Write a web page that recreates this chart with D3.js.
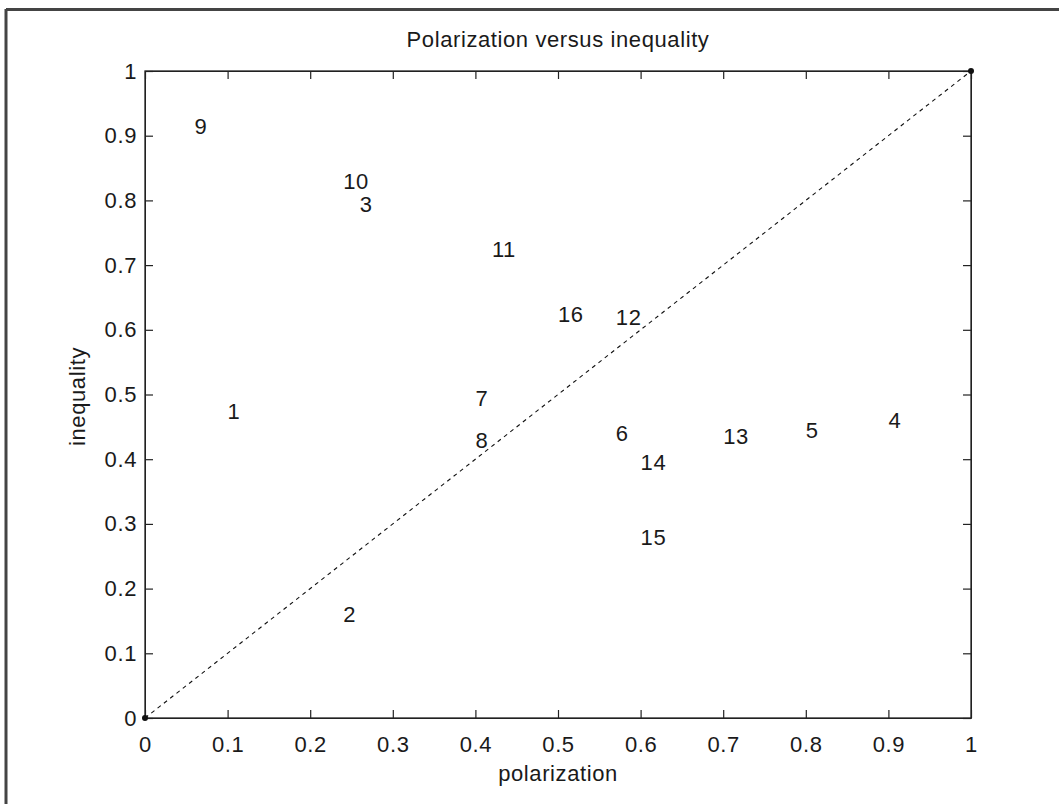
<!DOCTYPE html>
<html>
<head>
<meta charset="utf-8">
<script src="https://cdn.jsdelivr.net/npm/d3@7"></script>
<style>
  body { margin: 0; background: #fff; }
  svg text { font-family: "Liberation Sans", Arial, sans-serif; letter-spacing: 0.6px; }
</style>
</head>
<body>
<script>
// point labels with their (polarization, inequality) position
const labels = ["1", "2", "3", "4", "5", "6", "7", "8", "9", "10", "11", "12", "13", "14", "15", "16"];
const polarization = [0.10, 0.24, 0.26, 0.90, 0.80, 0.57, 0.40, 0.40, 0.06, 0.24, 0.42, 0.57, 0.70, 0.60, 0.60, 0.50];
const inequality = [0.475, 0.16, 0.795, 0.46, 0.445, 0.44, 0.495, 0.43, 0.915, 0.83, 0.725, 0.62, 0.435, 0.395, 0.28, 0.625];
const diagonal = [[0, 0], [1, 1]];
const ticks = [0, 0.1, 0.2, 0.3, 0.4, 0.5, 0.6, 0.7, 0.8, 0.9, 1];
const tickLabels = ["0", "0.1", "0.2", "0.3", "0.4", "0.5", "0.6", "0.7", "0.8", "0.9", "1"];

const W = 1059, H = 804;
const mLeft = 145, mRight = 971, mTop = 71, mBottom = 718;
const fs = 22;

const svg = d3.select("body").append("svg")
    .attr("width", W)
    .attr("height", H);

// figure frame (top and left edges are visible)
svg.append("line").attr("x1", 6).attr("y1", 9.5).attr("x2", W).attr("y2", 9.5)
    .attr("stroke", "#444").attr("stroke-width", 3);
svg.append("line").attr("x1", 6).attr("y1", 9).attr("x2", 6).attr("y2", H)
    .attr("stroke", "#444").attr("stroke-width", 3);

const x = d3.scaleLinear().domain([0, 1]).range([mLeft, mRight]);
const y = d3.scaleLinear().domain([0, 1]).range([mBottom, mTop]);

const fmt = (d, i) => tickLabels[i];

svg.append("g")
    .attr("transform", `translate(0,${mBottom})`)
    .call(d3.axisBottom(x).tickValues(ticks).tickFormat(fmt).tickSizeInner(-8).tickSizeOuter(0).tickPadding(18));
svg.append("g")
    .attr("transform", `translate(${mLeft},0)`)
    .call(d3.axisLeft(y).tickValues(ticks).tickFormat(fmt).tickSizeInner(-8).tickSizeOuter(0).tickPadding(8));
svg.append("g")
    .attr("transform", `translate(0,${mTop})`)
    .call(d3.axisTop(x).tickValues(ticks).tickFormat("").tickSizeInner(-8).tickSizeOuter(0));
svg.append("g")
    .attr("transform", `translate(${mRight},0)`)
    .call(d3.axisRight(y).tickValues(ticks).tickFormat("").tickSizeInner(-8).tickSizeOuter(0));

svg.selectAll(".tick text")
    .attr("font-size", fs)
    .attr("font-family", "Liberation Sans, Arial, sans-serif")
    .attr("fill", "#1a1a1a");
svg.selectAll(".domain").attr("stroke", "#222");
svg.selectAll(".tick line").attr("stroke", "#222").attr("stroke-width", 1.2);

// box
svg.append("rect")
    .attr("x", mLeft).attr("y", mTop)
    .attr("width", mRight - mLeft).attr("height", mBottom - mTop)
    .attr("fill", "none").attr("stroke", "#222").attr("stroke-width", 1.3);

// diagonal
svg.append("path")
    .datum(diagonal)
    .attr("d", d3.line().x(d => x(d[0])).y(d => y(d[1])))
    .attr("fill", "none")
    .attr("stroke", "#111")
    .attr("stroke-width", 1.1)
    .attr("stroke-dasharray", "4,4");

svg.selectAll("circle.end")
    .data(diagonal)
    .enter()
    .append("circle")
    .attr("class", "end")
    .attr("cx", d => x(d[0]))
    .attr("cy", d => y(d[1]))
    .attr("r", 3)
    .attr("fill", "#111");

// point labels
svg.selectAll("text.pt")
    .data(labels)
    .enter()
    .append("text")
    .attr("class", "pt")
    .attr("x", (d, i) => x(polarization[i]))
    .attr("y", (d, i) => y(inequality[i]))
    .attr("dy", "0.36em")
    .attr("font-size", fs)
    .attr("fill", "#1a1a1a")
    .text(d => d);

svg.append("text")
    .attr("x", (mLeft + mRight) / 2)
    .attr("y", 47)
    .attr("text-anchor", "middle")
    .attr("font-size", fs)
    .attr("fill", "#1a1a1a")
    .text("Polarization versus inequality");

svg.append("text")
    .attr("x", (mLeft + mRight) / 2)
    .attr("y", 781)
    .attr("text-anchor", "middle")
    .attr("font-size", fs)
    .attr("fill", "#1a1a1a")
    .text("polarization");

svg.append("text")
    .attr("transform", `translate(85,${(mTop + mBottom) / 2 + 2}) rotate(-90)`)
    .attr("text-anchor", "middle")
    .attr("font-size", fs)
    .attr("fill", "#1a1a1a")
    .text("inequality");
</script>
</body>
</html>
